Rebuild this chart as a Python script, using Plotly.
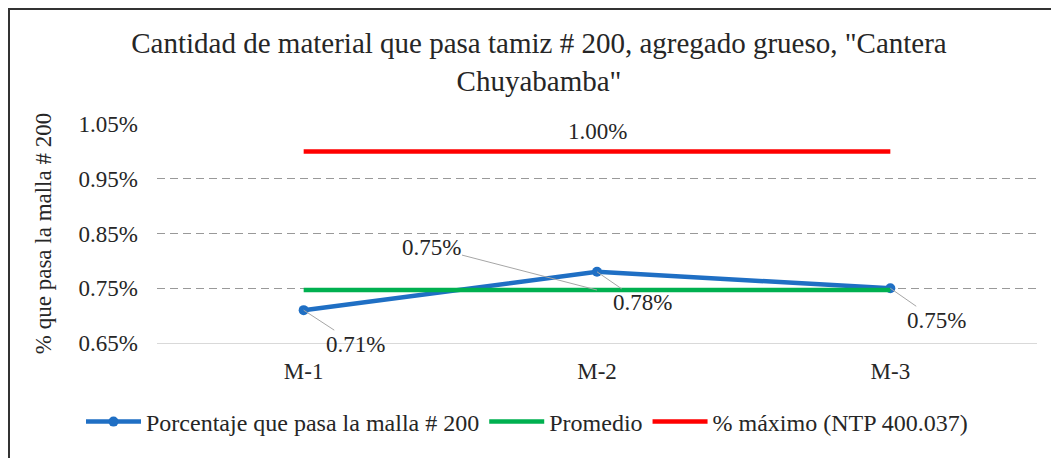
import plotly.graph_objects as go

categorias = ["M-1", "M-2", "M-3"]
porcentaje = [0.0071, 0.0078, 0.0075]
promedio = [0.007467, 0.007467, 0.007467]
maximo = [0.0100, 0.0100, 0.0100]
y_ticks = [0.0065, 0.0075, 0.0085, 0.0095, 0.0105]
y_ticklabels = ["0.65%", "0.75%", "0.85%", "0.95%", "1.05%"]

FONT = "Liberation Serif"
TXT = "#262626"
OFF = 8  # page body margin
W, H = 1059 - OFF, 458 - OFF
# targets in screen pixels
SL, SR, ST, SB = 157, 1037, 124, 343
ML, MT = SL - OFF, ST - OFF
MR = W - (SR - OFF)
MB = H - (SB - OFF)
PW, PH = W - ML - MR, H - MT - MB

def px_x(p):  # screen px -> paper x
    return (p - OFF - ML) / PW

def px_y(p):  # screen px -> paper y
    return (H - MB - (p - OFF)) / PH

fig = go.Figure()
fig.add_trace(go.Scatter(
    x=categorias, y=porcentaje, mode="lines+markers",
    name="Porcentaje que pasa la malla # 200",
    line=dict(color="#1F6FC4", width=4.5),
    marker=dict(size=10, color="#1F6FC4"),
))
fig.add_trace(go.Scatter(
    x=categorias, y=promedio, mode="lines", name="Promedio",
    line=dict(color="#00B050", width=4.5),
))
fig.add_trace(go.Scatter(
    x=categorias, y=maximo, mode="lines", name="% máximo (NTP 400.037)",
    line=dict(color="#FF0000", width=4.5),
))

lab_font = dict(family=FONT, size=23, color=TXT)
ann = []
ann.append(dict(x=categorias[1], y=maximo[1], text=f"{maximo[1]*100:.2f}%",
                showarrow=False, yshift=20, font=lab_font))
offsets = [(52, 34), (45, 31), (46, 32)]
for c, v, (ax, ay) in zip(categorias, porcentaje, offsets):
    ann.append(dict(x=c, y=v, text=f"{v*100:.2f}%", showarrow=True, arrowhead=0,
                    arrowwidth=1, arrowcolor="#a6a6a6", ax=ax, ay=ay,
                    font=lab_font))
ann.append(dict(x=categorias[1], y=promedio[1], text=f"{promedio[1]*100:.2f}%",
                showarrow=True, arrowhead=0, arrowwidth=1, arrowcolor="#a6a6a6",
                ax=-166, ay=-43, font=lab_font))

fig.update_layout(
    width=W, height=H,
    margin=dict(l=ML, r=MR, t=MT, b=MB, pad=0, autoexpand=False),
    paper_bgcolor="white", plot_bgcolor="white",
    font=dict(family=FONT, size=23, color=TXT),
    title=dict(text="Cantidad de material que pasa tamiz # 200, agregado grueso, \"Cantera<br>Chuyabamba\"",
               x=(539 - OFF) / W, xanchor="center", y=1 - (53 - OFF) / H, yanchor="middle",
               font=dict(family=FONT, size=29, color=TXT)),
    showlegend=True,
    legend=dict(orientation="h", x=px_x(81), xanchor="left", y=px_y(422), yanchor="middle",
                font=dict(family=FONT, size=24, color=TXT), itemwidth=55,
                tracegroupgap=0),
    annotations=ann,
    shapes=[
        dict(type="line", xref="paper", yref="paper", x0=px_x(8), x1=px_x(1059),
             y0=px_y(9), y1=px_y(9), line=dict(color="#333333", width=2)),
        dict(type="line", xref="paper", yref="paper", x0=px_x(9), x1=px_x(9),
             y0=px_y(8), y1=px_y(458), line=dict(color="#333333", width=2)),
    ],
)
fig.update_xaxes(type="category", range=[-0.5, 2.5], showgrid=False, automargin=False,
                 showline=True, linecolor="#d9d9d9", linewidth=1,
                 ticks="", ticklabelstandoff=7,
                 tickfont=dict(family=FONT, size=23, color=TXT))
fig.update_yaxes(range=[0.00649999, 0.01050002], tickvals=y_ticks, ticktext=y_ticklabels,
                 automargin=False,
                 showgrid=True, gridcolor="#999999", griddash="8px,5px", gridwidth=1,
                 zeroline=False, showline=False, ticks="", ticklabelstandoff=18,
                 tickfont=dict(family=FONT, size=23, color=TXT),
                 title=dict(text="% que pasa la malla # 200", standoff=20,
                            font=dict(family=FONT, size=23, color=TXT)))

fig.write_html("out.html")
